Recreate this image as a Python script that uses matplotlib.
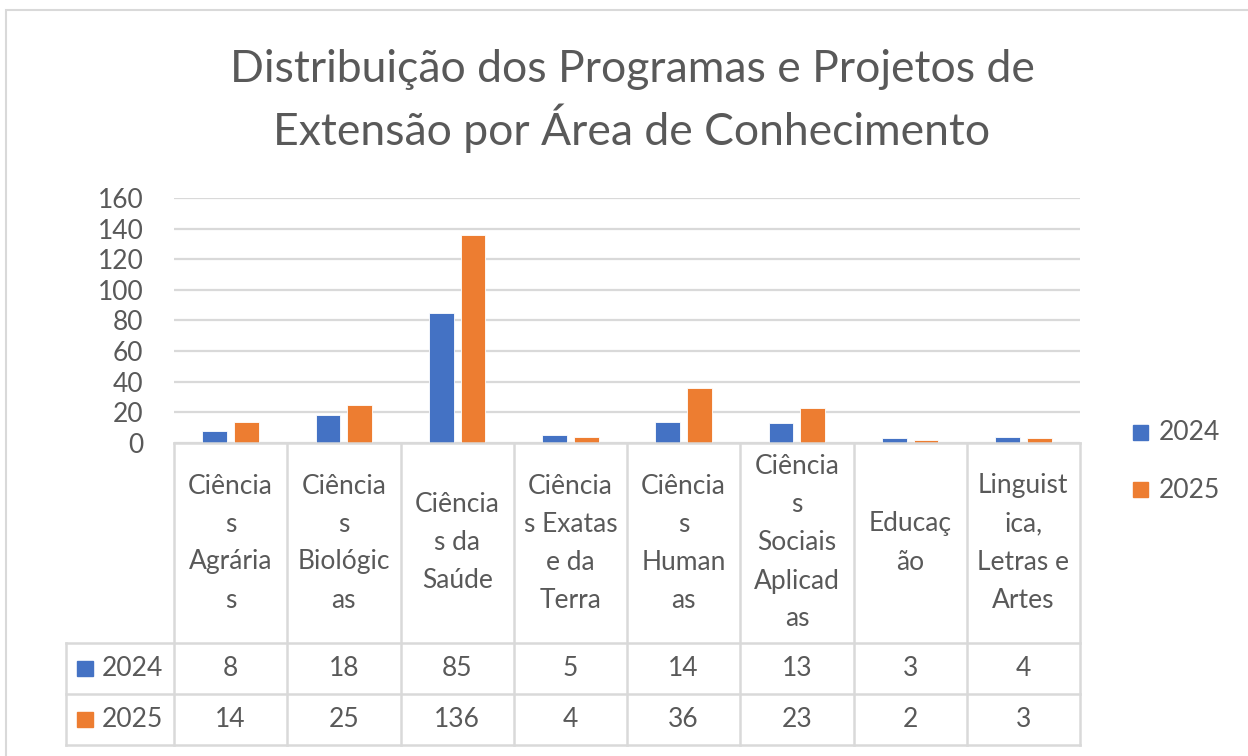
import matplotlib.pyplot as plt
import numpy as np
from matplotlib.patches import Rectangle

# 数据
categories = ['Ciências Agrárias', 'Ciências Biológicas', 'Ciências da Saúde',
              'Ciências Exatas e da Terra', 'Ciências Humanas',
              'Ciências Sociais Aplicadas', 'Educação',
              'Linguistica, Letras e Artes']
# quebras de linha como no Excel
cat_labels = ['Ciência\ns\nAgrária\ns', 'Ciência\ns\nBiológic\nas', 'Ciência\ns da\nSaúde',
              'Ciência\ns Exatas\ne da\nTerra', 'Ciência\ns\nHuman\nas',
              'Ciência\ns\nSociais\nAplicad\nas', 'Educaç\não', 'Linguist\nica,\nLetras e\nArtes']
series = ['2024', '2025']
v2024 = [8, 18, 85, 5, 14, 13, 3, 4]
v2025 = [14, 25, 136, 4, 36, 23, 2, 3]
yticks = [0, 20, 40, 60, 80, 100, 120, 140, 160]

BLUE = '#4472C4'
ORANGE = '#ED7D31'
TXT = '#595959'
GRID = '#D9D9D9'
FS = 19

plt.rcParams['font.family'] = ['Lato', 'DejaVu Sans']

W, H = 1248, 756
fig = plt.figure(figsize=(W / 100, H / 100), dpi=100)

# 外框
fig.patches.append(Rectangle((6 / W, -0.1), 1.2, (H - 10) / H + 0.1, transform=fig.transFigure,
                             fill=False, edgecolor=GRID, linewidth=1.5))

# 标题
fig.text(632 / W, 1 - 70 / H, 'Distribuição dos Programas e Projetos de',
         ha='center', va='center', fontsize=32, color=TXT)
fig.text(632 / W, 1 - 128 / H, 'Extensão por Área de Conhecimento',
         ha='center', va='center', fontsize=32, color=TXT)

# 柱状图区域
x0, x1, y0, y1 = 174, 1080, 198, 443
ax = fig.add_axes([x0 / W, 1 - y1 / H, (x1 - x0) / W, (y1 - y0) / H])
x = np.arange(len(categories)) + 0.5
w = 0.22
ax.bar(x - 0.14, v2024, w, color=BLUE, edgecolor='white', linewidth=0.6, zorder=3)
ax.bar(x + 0.14, v2025, w, color=ORANGE, edgecolor='white', linewidth=0.6, zorder=3)
ax.set_xlim(0, len(categories))
ax.set_ylim(0, 160)
ax.set_yticks(yticks)
ax.set_yticklabels([str(t) for t in yticks], fontsize=FS, color=TXT)
ax.tick_params(axis='y', length=0, pad=22)
ax.tick_params(axis='x', length=0, labelbottom=False)
ax.grid(axis='y', color=GRID, linewidth=1.6, zorder=0)
for s in ax.spines.values():
    s.set_visible(False)

# 数据表
tx0, ty0, ty1 = 66, 443, 745
tax = fig.add_axes([tx0 / W, 1 - ty1 / H, (x1 - tx0) / W, (ty1 - ty0) / H])
left = -(x0 - tx0) / ((x1 - x0) / len(categories))
tax.set_xlim(left, len(categories))
tax.set_ylim(ty1 - ty0, 0)
tax.axis('off')
rows = [200, 251, 302]
lk = dict(color=GRID, linewidth=1.8, clip_on=False, solid_capstyle='projecting')
tax.plot([0, len(categories)], [0, 0], **lk)
for r in rows:
    tax.plot([left, len(categories)], [r, r], **lk)
for i in range(len(categories) + 1):
    tax.plot([i, i], [0, 302], **lk)
tax.plot([left, left], [200, 302], **lk)

for i, lab in enumerate(cat_labels):
    tax.text(i + 0.5, 100, lab, ha='center', va='center', fontsize=FS,
             color=TXT, linespacing=1.65)
for r, (name, vals, col) in enumerate(zip(series, [v2024, v2025], [BLUE, ORANGE])):
    yc = (rows[r] + rows[r + 1]) / 2
    for i, v in enumerate(vals):
        tax.text(i + 0.5, yc, str(v), ha='center', va='center', fontsize=FS, color=TXT)
    tax.add_patch(Rectangle((left + 0.1, yc - 7.5), 0.135, 15, color=col, clip_on=False))
    tax.text(left + 0.32, yc, name, ha='left', va='center', fontsize=FS, color=TXT)

# 图例
for name, col, yc in zip(series, [BLUE, ORANGE], [432, 490]):
    fig.patches.append(Rectangle((1133 / W, 1 - (yc + 7.5) / H), 15 / W, 15 / H,
                                 transform=fig.transFigure, color=col))
    fig.text(1159 / W, 1 - yc / H, name, ha='left', va='center', fontsize=FS, color=TXT)

plt.savefig('out.png', dpi=100)
